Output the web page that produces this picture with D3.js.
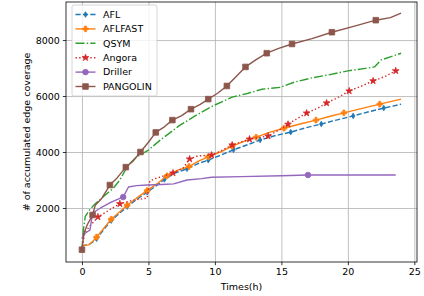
<!DOCTYPE html>
<html>
<head>
<meta charset="utf-8">
<script src="https://cdn.jsdelivr.net/npm/d3@7"></script>
<style>
  body { margin: 0; background: #fff; }
  text { font-family: "DejaVu Sans", sans-serif; fill: #000; }
</style>
</head>
<body>
<svg id="chart" width="424" height="296"></svg>
<script>
// data (hours, edges)
let aflT    = [0, 0.5, 0.8, 1.1, 1.6, 2.2, 2.8, 3.4, 4.1, 4.9, 5.6, 6.2, 7.0, 7.9, 8.7, 9.5, 10.4, 11.4, 12.4, 13.4, 14.5, 15.7, 16.8, 18.0, 19.2, 20.4, 21.5, 22.7, 23.4, 24];
let aflV    = [650, 690, 780, 900, 1200, 1550, 1800, 2050, 2300, 2560, 2800, 3020, 3250, 3400, 3580, 3710, 3880, 4080, 4250, 4430, 4580, 4710, 4860, 5000, 5150, 5290, 5430, 5570, 5640, 5710];
let aflMarks = [3, 5, 7, 9, 11, 13, 15, 17, 19, 21, 23, 25, 27];

let fastT   = [0, 0.5, 0.8, 1.1, 1.6, 2.2, 2.8, 3.4, 4.1, 4.9, 5.6, 6.4, 7.2, 8.05, 8.8, 9.5, 10.4, 11.3, 12.2, 13.1, 14.1, 15.2, 16.4, 17.6, 18.6, 19.7, 21.0, 22.4, 23.2, 24];
let fastV   = [650, 680, 800, 960, 1250, 1600, 1850, 2100, 2350, 2620, 2850, 3150, 3350, 3480, 3680, 3830, 4000, 4210, 4380, 4530, 4700, 4850, 5000, 5140, 5270, 5400, 5550, 5710, 5800, 5890];
let fastMarks = [3, 5, 7, 9, 11, 13, 15, 17, 19, 21, 23, 25, 27];

let qsymT   = [0, 0.1, 0.25, 0.6, 1.0, 1.6, 2.35, 2.85, 3.5, 4.1, 5.0, 5.9, 7.35, 8.9, 9.9, 11.3, 12.5, 13.5, 14.9, 16.0, 17.3, 18.5, 20.0, 21.2, 22.0, 22.5, 23.2, 24];
let qsymV   = [500, 1200, 1700, 1950, 2150, 2400, 2700, 3000, 3550, 3820, 4070, 4430, 4950, 5400, 5660, 5960, 6100, 6240, 6310, 6500, 6650, 6750, 6900, 6980, 7040, 7290, 7400, 7530];

let angT    = [0, 0.2, 0.5, 1.2, 1.8, 2.3, 2.85, 3.4, 3.85, 4.9, 5.1, 5.5, 6.1, 6.85, 7.6, 8.1, 8.7, 9.75, 10.5, 11.3, 12.6, 13.3, 14.0, 14.8, 15.5, 16.2, 16.9, 17.7, 18.4, 19.3, 20.1, 21.0, 21.9, 22.8, 23.6];
let angV    = [500, 1100, 1300, 1680, 1850, 2000, 2150, 2220, 2280, 2350, 2960, 3050, 3140, 3250, 3430, 3750, 3860, 3890, 4050, 4250, 4460, 4520, 4570, 4780, 4990, 5200, 5390, 5560, 5750, 5960, 6180, 6350, 6540, 6700, 6900];
let angMarks = [3, 6, 13, 15, 17, 19, 20, 22, 24, 26, 28, 30, 32, 34];

let drillT  = [0, 0.1, 0.4, 0.6, 0.8, 1.4, 2.2, 2.9, 3.1, 3.5, 4.1, 4.9, 6.0, 6.9, 7.9, 9.0, 9.75, 12, 15, 17, 20, 23.6];
let drillV  = [900, 1050, 1150, 1210, 1820, 2000, 2210, 2350, 2390, 2750, 2800, 2820, 2840, 2860, 3000, 3050, 3100, 3120, 3150, 3180, 3180, 3180];
let drillMarks = [8, 19];

let pangT   = [0, 0.15, 0.4, 0.8, 1.0, 1.5, 2.1, 2.6, 3.3, 3.8, 4.4, 5.0, 5.55, 6.2, 6.8, 7.5, 8.2, 8.9, 9.5, 10.2, 10.9, 11.6, 12.3, 13.1, 13.9, 14.8, 15.8, 17.3, 18.8, 20.5, 22.1, 23.2, 24];
let pangV   = [510, 1100, 1400, 1750, 2100, 2350, 2820, 3050, 3460, 3650, 4000, 4350, 4700, 4900, 5140, 5300, 5530, 5700, 5890, 6100, 6360, 6700, 7040, 7300, 7530, 7700, 7860, 8050, 8280, 8500, 8710, 8800, 8960];
let pangMarks = [0, 3, 6, 8, 10, 12, 14, 16, 18, 20, 22, 24, 26, 28, 30];

let xTicks = [0, 5, 10, 15, 20, 25];
let yTicks = [2000, 4000, 6000, 8000];

let series = [
  { name: 'AFL',      t: aflT,   v: aflV,   marks: aflMarks,   color: '#1f77b4', dash: '5.2,2.2',         marker: 'thin_diamond' },
  { name: 'AFLFAST',  t: fastT,  v: fastV,  marks: fastMarks,  color: '#ff7f0e', dash: null,              marker: 'plus' },
  { name: 'QSYM',     t: qsymT,  v: qsymV,  marks: [],         color: '#2ca02c', dash: '9,2.2,1.4,2.2',   marker: null },
  { name: 'Angora',   t: angT,   v: angV,   marks: angMarks,   color: '#d62728', dash: '1.4,2.3',         marker: 'star' },
  { name: 'Driller',  t: drillT, v: drillV, marks: drillMarks, color: '#9467bd', dash: null,              marker: 'circle' },
  { name: 'PANGOLIN', t: pangT,  v: pangV,  marks: pangMarks,  color: '#8c564b', dash: null,              marker: 'square' }
];

let svg = d3.select('#chart');
let pLeft = 66, pRight = 417, pTop = 2, pBottom = 262;
let fs = '9.5px';

let x = d3.scaleLinear().domain([-1.2, 25.2]).range([pLeft, pRight]);
let y = d3.scaleLinear().domain([70, 9360]).range([pBottom, pTop]);

// grid
svg.append('g')
  .attr('transform', 'translate(0,' + pBottom + ')')
  .call(d3.axisBottom(x).tickValues(xTicks).tickSize(-(pBottom - pTop)).tickFormat(''))
  .call(g => g.select('.domain').remove())
  .selectAll('line').attr('stroke', '#b0b0b0').attr('stroke-width', 0.8);
svg.append('g')
  .attr('transform', 'translate(' + pLeft + ',0)')
  .call(d3.axisLeft(y).tickValues(yTicks).tickSize(-(pRight - pLeft)).tickFormat(''))
  .call(g => g.select('.domain').remove())
  .selectAll('line').attr('stroke', '#b0b0b0').attr('stroke-width', 0.8);

// marker shapes
function markerPath(kind) {
  let s = 5.6;
  if (kind == 'square') return d3.symbol(d3.symbolSquare, s * s)();
  if (kind == 'circle') return d3.symbol(d3.symbolCircle, Math.PI * (s / 2) * (s / 2))();
  if (kind == 'star') return d3.symbol(d3.symbolStar, 14)();
  if (kind == 'thin_diamond') {
    let h = s / 2, w = s * 0.3;
    return 'M0,' + (-h) + 'L' + w + ',0L0,' + h + 'L' + (-w) + ',0Z';
  }
  if (kind == 'plus') {
    let a = s / 2, b = s / 6;
    return 'M' + (-b) + ',' + (-a) + 'H' + b + 'V' + (-b) + 'H' + a + 'V' + b + 'H' + b + 'V' + a +
      'H' + (-b) + 'V' + b + 'H' + (-a) + 'V' + (-b) + 'H' + (-b) + 'Z';
  }
  return null;
}

let line = d3.line()
  .x(d => x(d[0]))
  .y(d => y(d[1]));

let plot = svg.append('g');

series.forEach(function (s) {
  let pts = s.t.map((t, i) => [t, s.v[i]]);
  plot.append('path')
    .datum(pts)
    .attr('d', line)
    .attr('fill', 'none')
    .attr('stroke', s.color)
    .attr('stroke-width', 1.4)
    .attr('stroke-dasharray', s.dash)
    .attr('stroke-linejoin', 'round');

  if (s.marker) {
    plot.selectAll(null)
      .data(s.marks.map(i => pts[i]))
      .enter()
      .append('path')
      .attr('d', markerPath(s.marker))
      .attr('transform', d => 'translate(' + x(d[0]) + ',' + y(d[1]) + ')')
      .attr('fill', s.color)
      .attr('stroke', s.color)
      .attr('stroke-width', 0.8);
  }
});

// axes
let xAxis = svg.append('g')
  .attr('transform', 'translate(0,' + pBottom + ')')
  .call(d3.axisBottom(x).tickValues(xTicks).tickSize(3.2).tickPadding(3).tickFormat(d3.format('d')));
let yAxis = svg.append('g')
  .attr('transform', 'translate(' + pLeft + ',0)')
  .call(d3.axisLeft(y).tickValues(yTicks).tickSize(3.2).tickPadding(3).tickFormat(d3.format('d')));
[xAxis, yAxis].forEach(function (g) {
  g.select('.domain').remove();
  g.selectAll('text').attr('font-size', fs).attr('font-family', '"DejaVu Sans", sans-serif');
  g.selectAll('line').attr('stroke-width', 0.8);
});

// frame
svg.append('rect')
  .attr('x', pLeft).attr('y', pTop)
  .attr('width', pRight - pLeft).attr('height', pBottom - pTop)
  .attr('fill', 'none').attr('stroke', '#000').attr('stroke-width', 0.8);

svg.append('text')
  .attr('x', (pLeft + pRight) / 2).attr('y', 290)
  .attr('text-anchor', 'middle')
  .attr('font-size', fs)
  .text('Times(h)');

svg.append('text')
  .attr('transform', 'translate(29.5,' + ((pTop + pBottom) / 2) + ') rotate(-90)')
  .attr('text-anchor', 'middle')
  .attr('font-size', fs)
  .text('# of accumulated edge coverage');

// legend
let lg = svg.append('g').attr('transform', 'translate(72,5)');
lg.append('rect')
  .attr('width', 85).attr('height', 91).attr('rx', 2)
  .attr('fill', '#fff').attr('fill-opacity', 0.8)
  .attr('stroke', '#cccccc').attr('stroke-width', 0.8);

series.forEach(function (s, i) {
  let ly = 9.5 + i * 14.4;
  lg.append('line')
    .attr('x1', 3.5).attr('x2', 23.5).attr('y1', ly).attr('y2', ly)
    .attr('stroke', s.color).attr('stroke-width', 1.4)
    .attr('stroke-dasharray', s.dash);
  if (s.marker) {
    lg.append('path')
      .attr('d', markerPath(s.marker))
      .attr('transform', 'translate(13.5,' + ly + ')')
      .attr('fill', s.color).attr('stroke', s.color).attr('stroke-width', 0.8);
  }
  lg.append('text')
    .attr('x', 31).attr('y', ly)
    .attr('dy', '0.35em')
    .attr('font-size', fs)
    .text(s.name);
});
</script>
</body>
</html>
